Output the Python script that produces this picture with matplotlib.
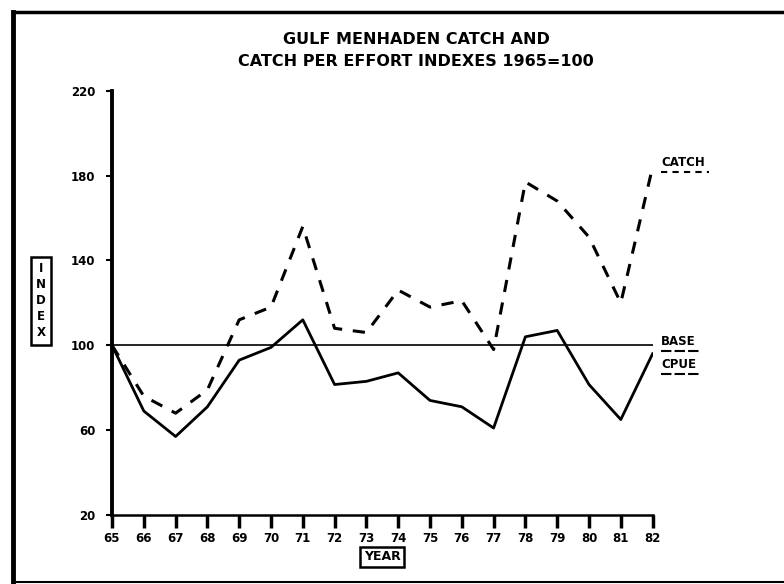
import matplotlib
matplotlib.use("Agg")
import matplotlib.pyplot as plt
from matplotlib.lines import Line2D

# data (index, 1965 = 100)
years = list(range(65, 83))
catch_index = [100, 76, 68, 79, 112, 118, 156, 108, 106, 126, 118, 121, 98, 177, 168, 151, 120, 184]
cpue_index = [100, 69, 57, 71, 93, 99, 112, 81.5, 83, 87, 74, 71, 61, 104, 107, 81.5, 65, 96]
base_value = 100
y_ticks = [20, 60, 100, 140, 180, 220]
x_labels = [str(y) for y in years]

title_lines = ["GULF MENHADEN CATCH AND", "CATCH PER EFFORT INDEXES 1965=100"]

plt.rcParams['font.family'] = ['DejaVu Sans']
plt.rcParams['font.weight'] = 'bold'

fig = plt.figure(figsize=(7.84, 5.84), dpi=100)
ax = fig.add_axes([112 / 784, 69 / 584, 540.6 / 784, 424.3 / 584])

# lines
ax.plot(years, catch_index, color='black', linewidth=2.2, linestyle=(0, (4, 3.5)))
ax.plot(years, cpue_index, color='black', linewidth=2.0)
ax.axhline(base_value, color='black', linewidth=1.2)

ax.set_xlim(years[0], years[-1])
ax.set_ylim(y_ticks[0], y_ticks[-1])
ax.set_xticks(years)
ax.set_xticklabels(x_labels)
ax.set_yticks(y_ticks)

for s in ['top', 'right']:
    ax.spines[s].set_visible(False)
ax.spines['left'].set_linewidth(2.8)
ax.spines['bottom'].set_linewidth(1.8)

ax.tick_params(axis='x', direction='out', length=9, width=2.5, pad=3, labelsize=8.5)
ax.tick_params(axis='y', direction='out', length=4, width=1.5, pad=8, labelsize=8.5)

# series labels at the right end
labels = [("CATCH", 186, (0, (3, 2.5))), ("BASE", 102, (0, (5, 1.5))), ("CPUE", 91, (0, (5, 1.5)))]
label_texts = []
for txt, yv, ls in labels:
    t = ax.annotate(txt, xy=(years[-1], yv), xytext=(6, 0), textcoords='offset points',
                    fontsize=8.5, fontweight='bold', va='center', ha='left',
                    annotation_clip=False)
    label_texts.append((t, ls))

# title
fig.text(416 / 784, 1 - 40 / 584, title_lines[0], ha='center', va='center', fontsize=11.5, fontweight='bold')
fig.text(416 / 784, 1 - 62 / 584, title_lines[1], ha='center', va='center', fontsize=11.5, fontweight='bold')

# boxed axis labels
fig.text(382 / 784, 1 - 557 / 584, "YEAR", ha='center', va='center', fontsize=9, fontweight='bold',
         bbox=dict(boxstyle='square,pad=0.3', facecolor='white', edgecolor='black', linewidth=1.8))
fig.text(41 / 784, 1 - 301 / 584, "I\nN\nD\nE\nX", ha='center', va='center', fontsize=8.5, fontweight='bold',
         linespacing=1.3,
         bbox=dict(boxstyle='square,pad=0.45', facecolor='white', edgecolor='black', linewidth=1.8))

# underline the series labels
fig.canvas.draw()
inv = fig.transFigure.inverted()
for t, ls in label_texts:
    bb = t.get_window_extent()
    (x0, y0), (x1, y1) = inv.transform([(bb.x0, bb.y0 - 3), (bb.x1 + 4, bb.y0 - 3)])
    fig.add_artist(Line2D([x0, x1], [y0, y1], color='black', linewidth=1.5, linestyle=ls))

# outer frame (left, top and bottom edges)
fig.add_artist(Line2D([13 / 784, 13 / 784], [1 - 12 / 584, 1 - 583 / 584], color='black', linewidth=3.5))
fig.add_artist(Line2D([13 / 784, 1.0], [1 - 12 / 584, 1 - 12 / 584], color='black', linewidth=2.5))
fig.add_artist(Line2D([13 / 784, 1.0], [1 - 582 / 584, 1 - 582 / 584], color='black', linewidth=1.5))

fig.savefig("out.png", dpi=100)
